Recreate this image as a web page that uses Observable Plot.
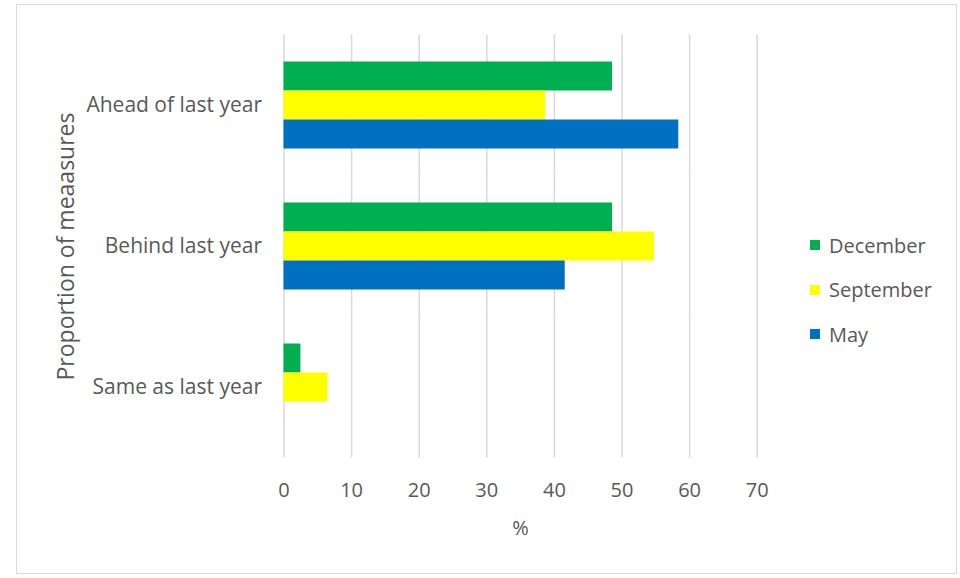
<!DOCTYPE html>
<html>
<head>
<meta charset="utf-8">
<script src="https://cdn.jsdelivr.net/npm/d3@7"></script>
<script src="https://cdn.jsdelivr.net/npm/@observablehq/plot@0.6"></script>
<style>
  html, body { margin: 0; padding: 0; background: #fff; }
  #wrap { position: relative; width: 960px; height: 578px; overflow: hidden; font-family: "Open Sans", sans-serif; }
  #border { position: absolute; left: 16px; top: 4px; width: 941px; height: 570px; border: 1px solid #d9d9d9; box-sizing: border-box; pointer-events: none; }
  #legend { position: absolute; left: 810px; top: 223px; color: #595959; font-size: 20px; }
  .item { display: flex; align-items: center; height: 44.5px; }
  .sw { width: 10px; height: 10px; margin-right: 9px; }
</style>
</head>
<body>
<div id="wrap"><div id="border"></div><div id="legend"></div></div>
<script>
const categories = ["Ahead of last year", "Behind last year", "Same as last year"];
const series = ["December", "September", "May"];
const colors = ["#00b050", "#ffff00", "#0070c0"];
const december = [48.6, 48.6, 2.5];
const september = [38.7, 54.8, 6.5];
const may = [58.4, 41.6, 0];
const xTicks = [0, 10, 20, 30, 40, 50, 60, 70];
const yLabel = "Proportion of meaasures";
const xLabel = "%";

const valuesBySeries = [december, september, may];
const data = [];
categories.forEach((c, i) => {
  series.forEach((s, j) => {
    data.push({category: c, series: s, value: valuesBySeries[j][i]});
  });
});

const chart = Plot.plot({
  width: 960,
  height: 578,
  marginLeft: 283.5,
  marginRight: 203.3,
  marginTop: 33.5,
  marginBottom: 118.4,
  style: {fontFamily: "'Open Sans', sans-serif", fontSize: "20px", color: "#595959", background: "transparent"},
  x: {domain: [0, 70], ticks: xTicks},
  y: {domain: series, padding: 0, axis: null},
  fy: {domain: categories, paddingInner: 0.373, paddingOuter: 0.187},
  color: {domain: series, range: colors},
  marks: [
    Plot.gridX(xTicks, {stroke: "#d9d9d9", strokeOpacity: 1, strokeWidth: 1.5, insetTop: -26.6, insetBottom: -26.6}),
    Plot.barX(data, {x: "value", y: "series", fy: "category", fill: "series", inset: 0}),
    Plot.axisX({ticks: xTicks, tickSize: 0, tickPadding: 51, fill: "#595959", fontSize: 20, label: xLabel, labelArrow: "none", labelAnchor: "center", labelOffset: 103}),
    Plot.axisFy({anchor: "left", tickSize: 0, tickPadding: 22, fill: "#595959", fontSize: 21, label: null}),
    Plot.axisFy({anchor: "left", tickSize: 0, ticks: [], fill: "#595959", fontSize: 23, label: yLabel, labelAnchor: "center", labelOffset: 226})
  ]
});
document.getElementById("wrap").prepend(chart);

const legend = document.getElementById("legend");
series.forEach((s, j) => {
  const it = document.createElement("div");
  it.className = "item";
  const sw = document.createElement("div");
  sw.className = "sw";
  sw.style.background = colors[j];
  const t = document.createElement("span");
  t.textContent = s;
  it.appendChild(sw);
  it.appendChild(t);
  legend.appendChild(it);
});
</script>
</body>
</html>
